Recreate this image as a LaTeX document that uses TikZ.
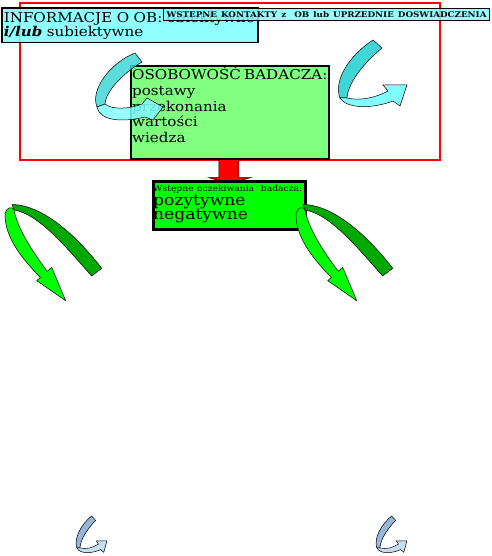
\documentclass[tikz,border=0pt]{standalone}
\usepackage{fontspec}
\setmainfont{DejaVu Serif}[FakeStretch=1.12]
\usetikzlibrary{positioning}

\definecolor{infocyan}{RGB}{128,255,255}
\definecolor{osobgreen}{RGB}{128,255,128}
\definecolor{oczgreen}{RGB}{0,255,0}
\definecolor{tqdark}{RGB}{64,214,214}
\definecolor{tqlight}{RGB}{128,255,255}
\definecolor{bldark}{RGB}{150,182,218}
\definecolor{bllight}{RGB}{196,222,246}
\definecolor{grdark}{RGB}{0,168,0}
\definecolor{grlight}{RGB}{0,255,0}

\tikzset{
  swirlline/.style={draw=black, line width=0.5pt},
  pics/swirl/.style={code={
    \draw[swirlline, fill=#1dark] (37,0) -- (46,8) .. controls (29,22) and (12,42) .. (11,58)
      -- (4,58) .. controls (-3,40) and (14,15) .. (37,0) -- cycle;
    \draw[swirlline, fill=#1light] (4,58) .. controls (12,70) and (39,68) .. (57,61) -- (64,66)
      -- (71,45) -- (47,45) -- (52,51) .. controls (39,58) and (24,61) .. (11,58) -- cycle;
  }},
  pics/grswirl/.style={code={
    \draw[swirlline, fill=grdark] (12,4.5) .. controls (45,5) and (80,40) .. (101.7,68.3)
      -- (91.7,76) .. controls (70,52) and (40,14) .. (14,10) -- cycle;
    \draw[swirlline, fill=grlight] (5,13.3) .. controls (4,38) and (25,62) .. (40.4,77.4)
      -- (36.7,80.7) -- (65.7,100.7) -- (51.7,67.3) -- (47.2,71.3)
      .. controls (33,52) and (18,30) .. (14,10) .. controls (12,6) and (7,7) .. (5,13.3) -- cycle;
  }}
}

\begin{document}
\begin{tikzpicture}[x=1pt, y=-1pt,
    boxline/.style={draw=black, line width=1.6pt},
    infobox/.style={boxline, fill=infocyan, fill opacity=0.88, text opacity=1, align=left, anchor=north west,
      inner xsep=2pt, inner ysep=2.7pt, text width=252pt, font=\fontsize{13.5}{14.3}\selectfont},
    wstbox/.style={draw=black, line width=1.2pt, fill=infocyan, fill opacity=0.82, text opacity=1, anchor=north west,
      inner xsep=3pt, inner ysep=0pt, minimum height=12pt, font=\fontsize{7.8}{9}\selectfont\bfseries},
    osobbox/.style={boxline, fill=osobgreen, anchor=north west, minimum width=198pt, minimum height=93pt, inner sep=0pt},
    oczbox/.style={draw=black, line width=2.6pt, fill=oczgreen, anchor=north west, minimum width=152pt, minimum height=48pt, inner sep=0pt},
    boxtext/.style={align=left, anchor=north west, inner sep=0pt, font=\fontsize{13.5}{15.7}\selectfont},
    redframe/.style={draw=red, line width=2.4pt, anchor=north west, minimum width=420pt, minimum height=157pt, inner sep=0pt},
    redarr/.style={draw=black, line width=0.6pt, fill=red}
  ]
  \useasboundingbox (0,0) rectangle (491,556);

  % top frame and the two information boxes
  \node[redframe] (frame) at (19,2) {};
  \node[infobox] (info) at (1,7) {\rule{0pt}{12pt}\makebox[250pt][s]{INFORMACJE O OB: obiektywne}\\\textbf{\textit{i/lub}} subiektywne};
  \node[wstbox] (wst) at (163,8) {\makebox[320pt][s]{WSTEPNE KONTAKTY z\ \ OB lub UPRZEDNIE DOSWIADCZENIA}};

  % personality of the researcher
  \node[osobbox] (osob) at (130,65) {};
  \node[boxtext, below right=2pt and 2pt of osob.north west] (osobtxt)
    {\makebox[194pt][s]{OSOBOWOŚĆ BADACZA:}\\postawy\\przekonania\\wartości\\wiedza};

  % block arrow down to the expectations
  \draw[redarr] (osob.south) ++(-11,0) -- ++(20,0) -- ++(0,18) -- ++(12,0) -- ++(-21,6)
    -- ++(-21,-6) -- ++(10,0) -- cycle;

  \node[oczbox] (ocz) at (152,180) {};
  \node[boxtext, font=\fontsize{15.3}{14}\selectfont, below right=5.5pt and 1pt of ocz.north west] (ocztxt)
    {{\fontsize{8.2}{9}\selectfont\makebox[149pt][s]{Wstępne oczekiwania\ \ badacza:}}\\pozytywne\\negatywne};

  % curved arrows
  \draw[swirlline, fill=tqdark, fill opacity=0.85] (135,53) -- (142,62) .. controls (125,72) and (106,90) .. (105,104)
    -- (97,107) .. controls (90,90) and (110,63) .. (135,53) -- cycle;
  \draw[swirlline, fill=tqlight, fill opacity=0.85] (97,107) .. controls (100,122) and (125,122) .. (145,117)
    -- (153,120) -- (163,107) -- (147,98) -- (142,104) .. controls (130,109) and (112,110) .. (105,104) -- cycle;
  \pic at (336,40) {swirl=tq};
  \pic at (0,200) {grswirl};
  \pic at (291,200) {grswirl};
  \pic[xscale=0.45, yscale=0.55] at (75,516) {swirl=bl};
  \pic[xscale=0.45, yscale=0.55] at (375,516) {swirl=bl};
\end{tikzpicture}
\end{document}
